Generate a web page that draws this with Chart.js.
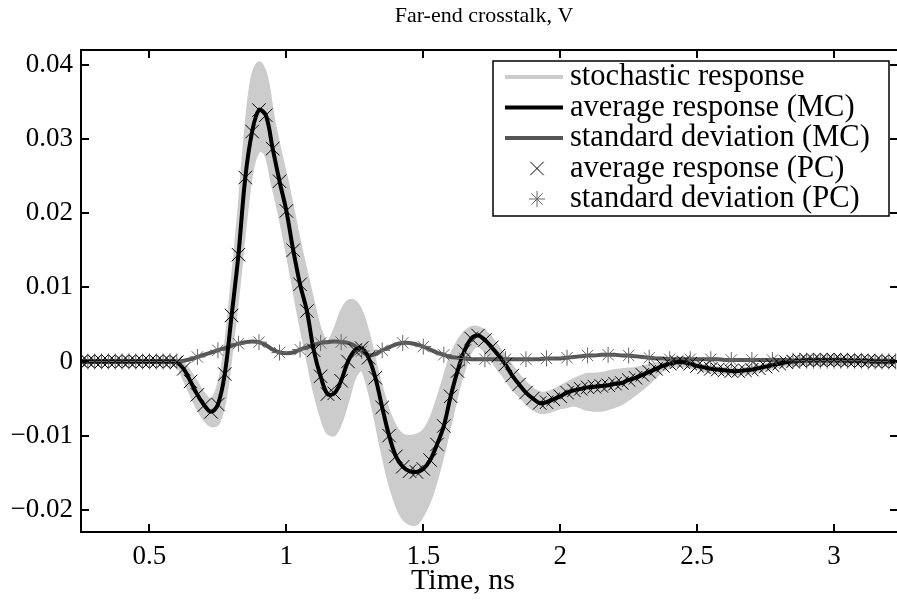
<!DOCTYPE html>
<html>
<head>
<meta charset="utf-8">
<script src="https://cdn.jsdelivr.net/npm/chart.js@4.4.1/dist/chart.umd.min.js"></script>
<style>
  body { margin: 0; background: #fff; }
  #wrap { width: 897px; height: 601px; position: relative; }
</style>
</head>
<body>
<div id="wrap"><canvas id="c"></canvas></div>
<script>
// time grid of the MC curves and of the PC "x" markers, ns
const time = [
  0.25, 0.275, 0.30, 0.325, 0.35, 0.375, 0.40, 0.425, 0.45, 0.475,
  0.50, 0.525, 0.55, 0.575, 0.60, 0.625, 0.65, 0.675, 0.70, 0.725,
  0.75, 0.775, 0.80, 0.825, 0.85, 0.875, 0.90, 0.925, 0.95, 0.975,
  1.00, 1.025, 1.05, 1.075, 1.10, 1.125, 1.15, 1.175, 1.20, 1.225,
  1.25, 1.275, 1.30, 1.325, 1.35, 1.375, 1.40, 1.425, 1.45, 1.475,
  1.50, 1.525, 1.55, 1.575, 1.60, 1.625, 1.65, 1.675, 1.70, 1.725,
  1.75, 1.775, 1.80, 1.825, 1.85, 1.875, 1.90, 1.925, 1.95, 1.975,
  2.00, 2.025, 2.05, 2.075, 2.10, 2.125, 2.15, 2.175, 2.20, 2.225,
  2.25, 2.275, 2.30, 2.325, 2.35, 2.375, 2.40, 2.425, 2.45, 2.475,
  2.50, 2.525, 2.55, 2.575, 2.60, 2.625, 2.65, 2.675, 2.70, 2.725,
  2.75, 2.775, 2.80, 2.825, 2.85, 2.875, 2.90, 2.925, 2.95, 2.975,
  3.00, 3.025, 3.05, 3.075, 3.10, 3.125, 3.15, 3.175, 3.20, 3.225
];

// average response (MC), V
const avgMC = [
  0, 0, 0, 0, 0, 0, 0, 0, 0, 0,
  0, 0, 0, 0, -0.0001, -0.0010, -0.0027, -0.0045, -0.0059, -0.0068,
  -0.0058, -0.0017, 0.0062, 0.0144, 0.0248, 0.0310, 0.0339, 0.0332, 0.0287, 0.0243,
  0.0203, 0.0150, 0.0104, 0.0068, 0.0015, -0.0020, -0.0044, -0.0043, -0.0026, 0.0000,
  0.0015, 0.0018, 0.0005, -0.0022, -0.0062, -0.0100, -0.0128, -0.0142, -0.0148, -0.0149,
  -0.0145, -0.0133, -0.0112, -0.0087, -0.0047, -0.0013, 0.0014, 0.0031, 0.0035, 0.0029,
  0.0019, 0.0008, -0.0004, -0.0019, -0.0031, -0.0042, -0.0050, -0.0056, -0.0055, -0.0051,
  -0.0047, -0.0042, -0.0039, -0.0037, -0.0035, -0.0034, -0.0033, -0.0032, -0.0030, -0.0029,
  -0.0025, -0.0022, -0.0018, -0.0014, -0.0010, -0.0006, -0.0003, -0.0001, -0.0001, -0.0003,
  -0.0006, -0.0008, -0.0010, -0.0011, -0.0012, -0.0013, -0.0013, -0.0012, -0.0011, -0.0009,
  -0.0007, -0.0005, -0.0003, -0.0001, 0.0000, 0.0001, 0.0002, 0.0002, 0.0002, 0.0002,
  0.0002, 0.0002, 0.0001, 0.0001, 0.0001, 0.0001, 0, 0, 0, 0
];

// standard deviation (MC), V
const stdMC = [
  0, 0, 0, 0, 0, 0, 0, 0, 0, 0,
  0, 0, 0, 0, 0, 0.0001, 0.0003, 0.0006, 0.0009, 0.0012,
  0.0015, 0.0018, 0.0021, 0.0024, 0.0026, 0.0027, 0.0026, 0.0022, 0.0016, 0.0012,
  0.0011, 0.0012, 0.0016, 0.0019, 0.0022, 0.0025, 0.0026, 0.0027, 0.0026, 0.0025,
  0.0021, 0.0014, 0.0008, 0.0010, 0.0015, 0.0019, 0.0023, 0.0025, 0.0025, 0.0023,
  0.0020, 0.0016, 0.0012, 0.0009, 0.0006, 0.0005, 0.0004, 0.0003, 0.0003, 0.0003,
  0.0003, 0.0003, 0.0003, 0.0003, 0.0003, 0.0003, 0.0003, 0.0003, 0.0004, 0.0004,
  0.0004, 0.0005, 0.0006, 0.0007, 0.0008, 0.0008, 0.0009, 0.0009, 0.0009, 0.0008,
  0.0008, 0.0007, 0.0006, 0.0005, 0.0004, 0.0004, 0.0003, 0.0003, 0.0003, 0.0003,
  0.0003, 0.0003, 0.0003, 0.0003, 0.0002, 0.0002, 0.0002, 0.0002, 0.0002, 0.0002,
  0.0002, 0.0002, 0.0002, 0.0002, 0.0001, 0.0001, 0.0001, 0.0001, 0.0001, 0.0001,
  0.0001, 0.0001, 0.0001, 0.0001, 0.0001, 0, 0, 0, 0, 0
];

// upper / lower edge of the bundle of stochastic responses, V
const stochUpper = [
  0.0001, 0.0001, 0.0001, 0.0001, 0.0001, 0.0001, 0.0001, 0.0001, 0.0001, 0.0001,
  0.0001, 0.0001, 0.0001, 0.0001, 0.0001, -0.0004, -0.0016, -0.0031, -0.0045, -0.0052,
  -0.0036, 0.0010, 0.0095, 0.0190, 0.0300, 0.0380, 0.0402, 0.0385, 0.0330, 0.0285,
  0.0245, 0.0200, 0.0155, 0.0115, 0.0075, 0.0040, 0.0025, 0.0040, 0.0065, 0.0080,
  0.0080, 0.0065, 0.0035, -0.0005, -0.0040, -0.0070, -0.0090, -0.0100, -0.0102, -0.0100,
  -0.0095, -0.0080, -0.0055, -0.0025, 0.0005, 0.0025, 0.0038, 0.0045, 0.0045, 0.0040,
  0.0030, 0.0018, 0.0005, -0.0008, -0.0020, -0.0030, -0.0038, -0.0043, -0.0043, -0.0040,
  -0.0035, -0.0030, -0.0025, -0.0021, -0.0018, -0.0018, -0.0017, -0.0015, -0.0013, -0.0012,
  -0.0011, -0.0010, -0.0008, -0.0006, -0.0004, -0.0002, 0.0000, 0.0001, 0.0001, -0.0001,
  -0.0004, -0.0006, -0.0008, -0.0009, -0.0010, -0.0011, -0.0011, -0.0010, -0.0009, -0.0007,
  -0.0005, -0.0003, -0.0001, 0.0001, 0.0002, 0.0003, 0.0003, 0.0003, 0.0003, 0.0003,
  0.0003, 0.0003, 0.0003, 0.0003, 0.0003, 0.0002, 0.0002, 0.0002, 0.0002, 0.0002
];
const stochLower = [
  -0.0001, -0.0001, -0.0001, -0.0001, -0.0001, -0.0001, -0.0001, -0.0001, -0.0001, -0.0001,
  -0.0001, -0.0001, -0.0001, -0.0001, -0.0003, -0.0022, -0.0042, -0.0062, -0.0077, -0.0086,
  -0.0083, -0.0050, 0.0020, 0.0100, 0.0190, 0.0260, 0.0285, 0.0280, 0.0240, 0.0200,
  0.0155, 0.0105, 0.0055, 0.0010, -0.0035, -0.0070, -0.0095, -0.0098, -0.0080, -0.0050,
  -0.0020, -0.0010, -0.0035, -0.0075, -0.0120, -0.0160, -0.0190, -0.0210, -0.0218, -0.0218,
  -0.0205, -0.0185, -0.0155, -0.0120, -0.0080, -0.0040, -0.0008, 0.0015, 0.0022, 0.0015,
  0.0003, -0.0010, -0.0022, -0.0035, -0.0045, -0.0055, -0.0063, -0.0068, -0.0068, -0.0065,
  -0.0062, -0.0060, -0.0058, -0.0061, -0.0064, -0.0065, -0.0065, -0.0063, -0.0060, -0.0056,
  -0.0050, -0.0043, -0.0036, -0.0028, -0.0019, -0.0011, -0.0007, -0.0005, -0.0005, -0.0007,
  -0.0009, -0.0011, -0.0013, -0.0014, -0.0015, -0.0016, -0.0016, -0.0015, -0.0014, -0.0012,
  -0.0010, -0.0008, -0.0006, -0.0004, -0.0003, -0.0002, -0.0002, -0.0002, -0.0002, -0.0002,
  -0.0002, -0.0002, -0.0002, -0.0002, -0.0002, -0.0002, -0.0002, -0.0002, -0.0002, -0.0002
];

// PC average sits on the MC average at every sample of the time grid
const avgPCTime = time;
const avgPC = avgMC;

// PC standard deviation samples ("*" markers)
const stdPCTime = [
  0.25, 0.275, 0.30, 0.325, 0.35, 0.375, 0.40, 0.425, 0.45, 0.475,
  0.50, 0.525, 0.55, 0.575, 0.60, 0.675, 0.75, 0.825, 0.90, 0.975,
  1.05, 1.125, 1.20, 1.275, 1.35, 1.425, 1.50, 1.575, 1.65, 1.725,
  1.80, 1.875, 1.95, 2.025, 2.10, 2.175, 2.25, 2.325, 2.40, 2.475,
  2.55, 2.625, 2.70, 2.775, 2.85, 2.875, 2.90, 2.925, 2.95, 2.975,
  3.00, 3.025, 3.05, 3.075, 3.10, 3.125, 3.15, 3.175, 3.20, 3.225
];
const stdPC = [
  0, 0, 0, 0, 0, 0, 0, 0, 0, 0,
  0, 0, 0, 0, 0, 0.0006, 0.0015, 0.0024, 0.0026, 0.0012,
  0.0016, 0.0025, 0.0026, 0.0014, 0.0015, 0.0025, 0.0020, 0.0009, 0.0004, 0.0003,
  0.0003, 0.0003, 0.0004, 0.0005, 0.0008, 0.0009, 0.0008, 0.0005, 0.0003, 0.0003,
  0.0003, 0.0002, 0.0002, 0.0002, 0.0001, 0.0001, 0.0001, 0.0001, 0.0001, 0.0001,
  0.0001, 0.0001, 0.0001, 0.0001, 0.0001, 0, 0, 0, 0, 0
];

const xTicks = [0.5, 1, 1.5, 2, 2.5, 3];
const yTicks = [-0.02, -0.01, 0, 0.01, 0.02, 0.03, 0.04];

const titleText = 'Far-end crosstalk, V';
const xLabel = 'Time, ns';

const SERIF = '"Liberation Serif", "DejaVu Serif", serif';

function pts(xs, ys) {
    return xs.map((x, i) => ({ x: x, y: ys[i] }));
}

function fmtY(v) {
    if (Math.abs(v) < 1e-9) return '0';
    return (v < 0 ? '\u2212' : '') + Math.abs(v).toFixed(2);
}

// box with inward ticks (matlab style), title and x label
const frame = {
    id: 'frame',
    afterDraw(chart) {
        const ctx = chart.ctx, a = chart.chartArea;
        const xs = chart.scales.x, ys = chart.scales.y;
        ctx.save();
        ctx.strokeStyle = '#000';
        ctx.lineWidth = 2;
        ctx.strokeRect(a.left, a.top, a.right + 2 - a.left, a.bottom - a.top);
        ctx.beginPath();
        xTicks.forEach(v => {
            const p = Math.round(xs.getPixelForValue(v));
            ctx.moveTo(p, a.bottom); ctx.lineTo(p, a.bottom - 8);
            ctx.moveTo(p, a.top); ctx.lineTo(p, a.top + 8);
        });
        yTicks.forEach(v => {
            const p = Math.round(ys.getPixelForValue(v));
            ctx.moveTo(a.left, p); ctx.lineTo(a.left + 8, p);
            ctx.moveTo(a.right + 1, p); ctx.lineTo(a.right - 7, p);
        });
        ctx.stroke();

        ctx.fillStyle = '#000';
        ctx.textAlign = 'center';
        ctx.textBaseline = 'middle';
        ctx.font = '22px ' + SERIF;
        ctx.fillText(titleText, 484, 16);
        ctx.font = '30px ' + SERIF;
        ctx.fillText(xLabel, 463, 581);
        ctx.restore();
    }
};

// legend drawn as a boxed list in the upper right corner
const boxLegend = {
    id: 'boxLegend',
    afterDraw(chart) {
        const ctx = chart.ctx;
        const L = 493, T = 61, R = 889, B = 216;
        ctx.save();
        ctx.fillStyle = '#fff';
        ctx.fillRect(L, T, R - L, B - T);
        ctx.strokeStyle = '#000';
        ctx.lineWidth = 1.5;
        ctx.strokeRect(L, T, R - L, B - T);
        const order = [0, 2, 3, 4, 5];
        order.forEach((di, k) => {
            const ds = chart.data.datasets[di];
            const y = 77 + k * 30.5;
            ctx.strokeStyle = ds.borderColor;
            ctx.lineWidth = ds.borderWidth;
            if (ds.showLine === false) {
                Chart.helpers.drawPoint(ctx, {
                    pointStyle: ds.pointStyle, radius: ds.pointRadius,
                    borderWidth: ds.borderWidth
                }, 537, y);
            } else {
                ctx.beginPath();
                ctx.moveTo(505, y); ctx.lineTo(563, y);
                ctx.stroke();
            }
            ctx.fillStyle = '#000';
            ctx.font = '30.5px ' + SERIF;
            ctx.textAlign = 'left';
            ctx.textBaseline = 'middle';
            ctx.fillText(ds.label, 570, y);
        });
        ctx.restore();
    }
};

new Chart(document.getElementById('c'), {
    type: 'line',
    data: {
        datasets: [
            {
                label: 'stochastic response',
                data: pts(time, stochUpper),
                borderColor: '#cccccc',
                backgroundColor: '#cccccc',
                borderWidth: 4,
                pointRadius: 0,
                fill: '+1',
                tension: 0.35,
                order: 6,
            },
            {
                label: 'stochastic lower',
                data: pts(time, stochLower),
                borderColor: '#cccccc',
                borderWidth: 4,
                pointRadius: 0,
                fill: false,
                tension: 0.35,
                order: 7,
            },
            {
                label: 'average response (MC)',
                data: pts(time, avgMC),
                borderColor: '#000000',
                borderWidth: 4,
                pointRadius: 0,
                fill: false,
                tension: 0.35,
                order: 3,
            },
            {
                label: 'standard deviation (MC)',
                data: pts(time, stdMC),
                borderColor: '#555555',
                borderWidth: 4,
                pointRadius: 0,
                fill: false,
                tension: 0.35,
                order: 4,
            },
            {
                label: 'average response (PC)',
                data: pts(avgPCTime, avgPC),
                showLine: false,
                pointStyle: 'crossRot',
                pointRadius: 9.5,
                borderColor: '#000000',
                borderWidth: 1,
                order: 1,
            },
            {
                label: 'standard deviation (PC)',
                data: pts(stdPCTime, stdPC),
                showLine: false,
                pointStyle: 'star',
                pointRadius: 8,
                borderColor: '#666666',
                borderWidth: 1,
                order: 2,
            },
        ]
    },
    options: {
        responsive: true,
        maintainAspectRatio: false,
        animation: false,
        layout: { autoPadding: false, padding: { top: 50, right: 0, left: 0, bottom: 0 } },
        scales: {
            x: {
                type: 'linear',
                min: 0.25,
                max: 3.23,
                afterBuildTicks: s => { s.ticks = xTicks.map(v => ({ value: v })); },
                afterFit: s => { s.height = 69; },
                ticks: {
                    callback: v => String(v),
                    color: '#000',
                    padding: 9,
                    maxRotation: 0,
                    font: { family: SERIF, size: 27 },
                },
                grid: { display: false, drawTicks: false },
                border: { display: false },
            },
            y: {
                min: -0.023,
                max: 0.042,
                afterBuildTicks: s => { s.ticks = yTicks.map(v => ({ value: v })); },
                afterFit: s => { s.width = 81; },
                ticks: {
                    callback: v => fmtY(v),
                    color: '#000',
                    padding: 8,
                    font: { family: SERIF, size: 27 },
                },
                grid: { display: false, drawTicks: false },
                border: { display: false },
            },
        },
        plugins: {
            legend: { display: false },
            tooltip: { enabled: false },
            title: { display: false },
        }
    },
    plugins: [frame, boxLegend]
});
</script>
</body>
</html>
